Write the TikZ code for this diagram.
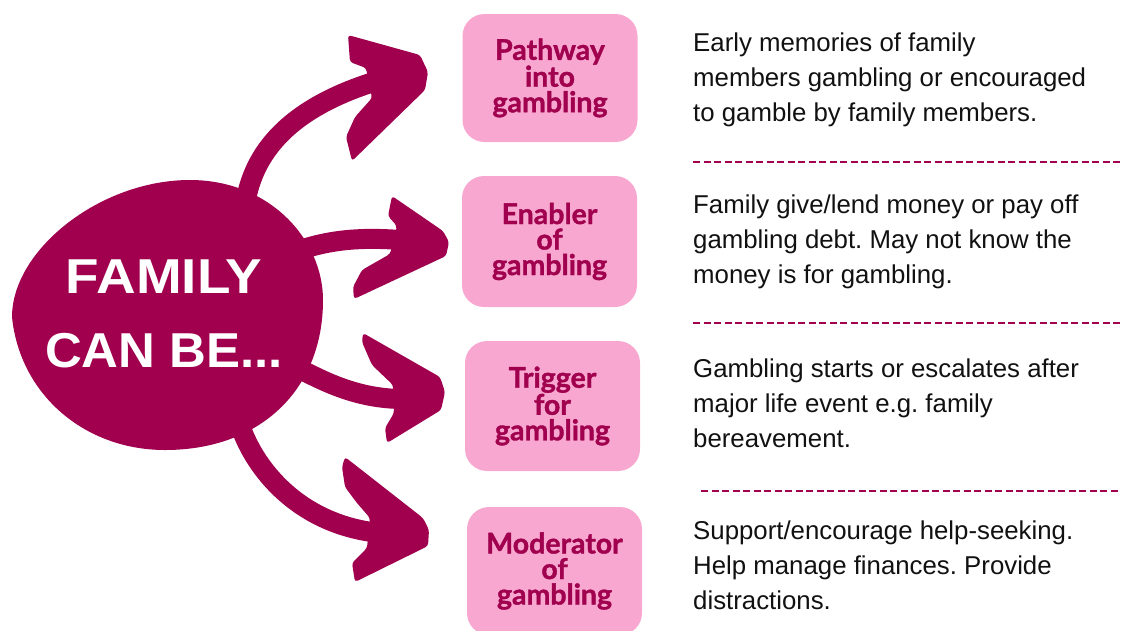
\documentclass[tikz,border=0pt]{standalone}
\usepackage{fontspec}
\setmainfont{Liberation Sans}
\newfontfamily\boxfont[BoldFeatures={FakeBold=1.3}]{Lato}
\definecolor{fam}{HTML}{A0004E}
\definecolor{pinkfill}{HTML}{F8A8D0}
\definecolor{desctext}{HTML}{111111}
\frenchspacing
\begin{document}
\begin{tikzpicture}[x=1pt,y=-1pt,
  shaft/.style={draw=fam,line width=20pt},
  headshape/.style={fill=fam,rounded corners=3pt},
  pinkbox/.style={fill=pinkfill,rounded corners=22pt,minimum width=175pt,inner sep=0pt,align=center,text=fam,font=\boxfont\bfseries\fontsize{28.5}{25.5}\selectfont},
  desc/.style={anchor=base west,inner sep=0pt,align=left,text=desctext,font=\fontsize{25.8}{35}\selectfont},
  famtext/.style={anchor=base,inner sep=0pt,text=white,font=\bfseries\fontsize{49}{60}\selectfont},
  sepline/.style={draw=fam,line width=2.4pt,dash pattern=on 7pt off 3.5pt}
]
\useasboundingbox (0,0) rectangle (1121,630);

% coordinates for connectors
\coordinate (s1) at (245,205);
\coordinate (e1) at (380,80);
\coordinate (s2) at (300,250);
\coordinate (e2) at (400,240);
\coordinate (s3) at (298,368);
\coordinate (e3) at (400,399);
\coordinate (s4) at (240,425);
\coordinate (e4) at (380,533);

% shafts
\draw[shaft] (s1) .. controls (252,160) and (280,110) .. (e1);
\draw[shaft] (s2) .. controls (330,240) and (360,237) .. (e2);
\draw[shaft] (s3) .. controls (330,385) and (360,398) .. (e3);
\draw[shaft] (s4) .. controls (255,470) and (300,525) .. (e4);

% heads
\fill[headshape] (348,35) -- (420,55) -- (428,72) -- (425,90) -- (352,161) -- (346,137) -- (355,117) -- (372,98) -- (366,68) -- (350,62) -- cycle;
\fill[headshape] (392,196) -- (443,231) -- (449,242) -- (446,256) -- (354,299) -- (353,287) -- (362,270) -- (390,254) -- (397,226) -- (388,216) -- cycle;
\fill[headshape] (363,333) -- (440,377) -- (445,392) -- (441,410) -- (387,443) -- (385,428) -- (394,413) -- (393,385) -- (372,365) -- (362,342) -- cycle;
\fill[headshape] (345,457) -- (423,518) -- (429,530) -- (428,546) -- (355,582) -- (352,563) -- (367,548) -- (370,518) -- (357,503) -- (345,487) -- (342,467) -- cycle;

% blob
\fill[fam] (12,317) .. controls (12,250) and (100,180) .. (190,180)
  .. controls (270,180) and (323,240) .. (323,300)
  .. controls (323,390) and (260,450) .. (165,450)
  .. controls (85,450) and (20,395) .. (12,317) -- cycle;
\node[famtext] (fam1) at (164,293) {\scalebox{1.12}[1]{FAMILY}};
\node[famtext] (fam2) at (164,367) {\scalebox{1.04}[1]{CAN BE...}};

% boxes
\node[pinkbox,minimum height=128pt] (b1) at (550,78) {Pathway\\into\\gambling};
\node[pinkbox,minimum height=131pt] (b2) at (549.5,241.5) {Enabler\\of\\gambling};
\node[pinkbox,minimum height=130pt] (b3) at (552.5,406) {Trigger\\for\\gambling};
\node[pinkbox,minimum height=128pt] (b4) at (554.5,571) {Moderator\\of\\gambling};

% descriptions (anchored at the baseline of the last line)
\node[desc] (d1) at (693,121) {Early memories of family\\members gambling or encouraged\\to gamble by family members.};
\node[desc] (d2) at (693,283) {Family give/lend money or pay off\\gambling debt. May not know the\\money is for gambling.};
\node[desc] (d3) at (693,447) {Gambling starts or escalates after\\major life event e.g. family\\bereavement.};
\node[desc] (d4) at (693,609) {Support/encourage help-seeking.\\Help manage finances. Provide\\distractions.};

% separators
\draw[sepline] (693,162) -- (1121,162);
\draw[sepline] (693,323) -- (1121,323);
\draw[sepline] (701,491) -- (1121,491);
\end{tikzpicture}
\end{document}
